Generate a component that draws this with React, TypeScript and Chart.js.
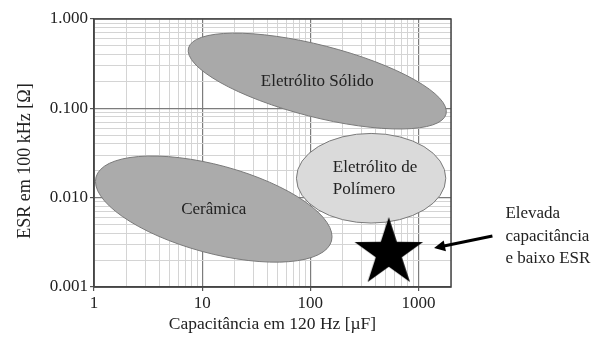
import { useEffect, useRef } from 'react';
import { Chart, registerables } from 'chart.js';

Chart.register(...registerables);

// Axis ticks (decades) and labels
const xTickValues = [1, 10, 100, 1000];
const xTickLabels = ['1', '10', '100', '1000'];
const yTickValues = [0.001, 0.01, 0.1, 1];
const yTickLabels = ['0.001', '0.010', '0.100', '1.000'];
const xMin = 1;
const xMax = 2000;
const yMin = 0.001;
const yMax = 1;
const xTitle = 'Capacitância em 120 Hz [µF]';
const yTitle = 'ESR em 100 kHz [Ω]';

// Technology regions (ellipses in log-log data space), in drawing order
const regionLabels = [['Eletrólito Sólido'], ['Eletrólito de', 'Polímero'], ['Cerâmica']];
const regionCenterCap = [116, 365, 12.8];
const regionCenterEsr = [0.202, 0.0165, 0.00745];
const regionAxisEndCap = [1800, 1790, 157];
const regionAxisEndEsr = [0.0863, 0.0165, 0.00327];
const regionWidthRatio = [0.27, 0.6, 0.36];
const regionFill = ['#a9a9a9', '#dadada', '#ababab'];

// Highlight: high capacitance and low ESR
const starCap = [532];
const starEsr = [0.0024];
const arrowTailCap = 4830;
const arrowTailEsr = 0.00372;
const arrowHeadCap = 1394;
const arrowHeadEsr = 0.00273;
const noteLines = ['Elevada', 'capacitância', 'e baixo ESR'];

const FONT = '"Liberation Serif", "Times New Roman", serif';
const TEXT = '#222222';

function makeStar(): HTMLCanvasElement {
  const c = document.createElement('canvas');
  const R = 36;
  const r = R * 0.382;
  c.width = 76;
  c.height = 76;
  const g = c.getContext('2d')!;
  g.translate(38, 38);
  g.beginPath();
  for (let i = 0; i < 10; i++) {
    const rad = i % 2 === 0 ? R : r;
    const a = -Math.PI / 2 + (i * Math.PI) / 5;
    const px = rad * Math.cos(a);
    const py = rad * Math.sin(a);
    if (i === 0) g.moveTo(px, py);
    else g.lineTo(px, py);
  }
  g.closePath();
  g.fillStyle = '#000';
  g.fill();
  return c;
}

function minorTicks(min: number, max: number) {
  const out: { value: number }[] = [];
  for (let e = -4; e <= 4; e++) {
    for (let m = 1; m <= 9; m++) {
      const v = +(m * Math.pow(10, e)).toPrecision(6);
      if (v >= min * 0.9999 && v <= max * 1.0001) out.push({ value: v });
    }
  }
  return out;
}

function isMajor(v: number) {
  const l = Math.log10(v);
  return Math.abs(l - Math.round(l)) < 1e-6;
}

const regionsPlugin = {
  id: 'regions',
  beforeDatasetsDraw(chart: any) {
    const { ctx, scales } = chart;
    const xs = scales.x;
    const ys = scales.y;
    for (let i = 0; i < regionLabels.length; i++) {
      const cx = xs.getPixelForValue(regionCenterCap[i]);
      const cy = ys.getPixelForValue(regionCenterEsr[i]);
      const ex = xs.getPixelForValue(regionAxisEndCap[i]);
      const ey = ys.getPixelForValue(regionAxisEndEsr[i]);
      const a = Math.hypot(ex - cx, ey - cy);
      const b = a * regionWidthRatio[i];
      const rot = Math.atan2(ey - cy, ex - cx);
      ctx.save();
      ctx.beginPath();
      ctx.ellipse(cx, cy, a, b, rot, 0, Math.PI * 2);
      ctx.fillStyle = regionFill[i];
      ctx.fill();
      ctx.lineWidth = 1;
      ctx.strokeStyle = '#7a7a7a';
      ctx.stroke();
      ctx.font = `17px ${FONT}`;
      ctx.fillStyle = TEXT;
      ctx.textBaseline = 'middle';
      const lines = regionLabels[i];
      if (lines.length === 1) {
        ctx.textAlign = 'center';
        ctx.fillText(lines[0], cx, cy);
      } else {
        ctx.textAlign = 'left';
        const w = ctx.measureText(lines[0]).width;
        const lx = cx - w / 2 + 4;
        const lh = 22;
        lines.forEach((t, k) => {
          ctx.fillText(t, lx, cy + (k - (lines.length - 1) / 2) * lh);
        });
      }
      ctx.restore();
    }
  },
  afterDraw(chart: any) {
    const { ctx, scales, chartArea } = chart;
    const xs = scales.x;
    const ys = scales.y;
    const tx = xs.getPixelForValue(arrowTailCap);
    const ty = ys.getPixelForValue(arrowTailEsr);
    const hx = xs.getPixelForValue(arrowHeadCap);
    const hy = ys.getPixelForValue(arrowHeadEsr);
    const ang = Math.atan2(hy - ty, hx - tx);
    const headLen = 11;
    const headW = 5.5;
    ctx.save();
    ctx.strokeStyle = '#000';
    ctx.fillStyle = '#000';
    ctx.lineWidth = 3;
    ctx.beginPath();
    ctx.moveTo(tx, ty);
    ctx.lineTo(hx - Math.cos(ang) * headLen * 0.8, hy - Math.sin(ang) * headLen * 0.8);
    ctx.stroke();
    ctx.beginPath();
    ctx.moveTo(hx, hy);
    const bx = hx - Math.cos(ang) * headLen;
    const by = hy - Math.sin(ang) * headLen;
    ctx.lineTo(bx + Math.sin(ang) * headW, by - Math.cos(ang) * headW);
    ctx.lineTo(bx - Math.sin(ang) * headW, by + Math.cos(ang) * headW);
    ctx.closePath();
    ctx.fill();
    ctx.font = `17px ${FONT}`;
    ctx.fillStyle = TEXT;
    ctx.textAlign = 'left';
    ctx.textBaseline = 'middle';
    noteLines.forEach((t, k) => {
      ctx.fillText(t, tx + 13, ty + (k - 1) * 22.5);
    });
    // y-axis title (slightly below the plot's vertical centre, as in the original)
    ctx.translate(25, (chartArea.top + chartArea.bottom) / 2 + 8);
    ctx.rotate(-Math.PI / 2);
    ctx.font = `18px ${FONT}`;
    ctx.textAlign = 'center';
    ctx.fillText(yTitle, 0, 0);
    ctx.restore();
  },
};

export default function App() {
  const ref = useRef<HTMLCanvasElement>(null);
  useEffect(() => {
    if (!ref.current) return;
    const star = makeStar();
    const chart = new Chart(ref.current, {
      type: 'scatter',
      data: {
        datasets: [
          {
            data: starCap.map((c, i) => ({ x: c, y: starEsr[i] })),
            pointStyle: star as any,
            pointRadius: 1,
            backgroundColor: '#000',
            borderColor: '#000',
          },
        ],
      },
      options: {
        animation: false,
        responsive: false,
        maintainAspectRatio: false,
        layout: { autoPadding: false, padding: { left: 0, right: 141, top: 19, bottom: 0 } },
        plugins: { legend: { display: false }, tooltip: { enabled: false } },
        scales: {
          x: {
            type: 'logarithmic',
            min: xMin,
            max: xMax,
            afterBuildTicks: (s: any) => {
              s.ticks = minorTicks(xMin, xMax);
            },
            afterFit: (s: any) => {
              s.height = 55;
            },
            ticks: {
              autoSkip: false,
              maxRotation: 0,
              padding: 2,
              color: TEXT,
              font: { family: FONT, size: 17 },
              callback: (v: any) => {
                const i = xTickValues.findIndex((t) => Math.abs(t - v) < 1e-9);
                return i >= 0 ? xTickLabels[i] : '';
              },
            },
            grid: {
              color: (c: any) => (isMajor(c.tick?.value ?? 2) ? '#7c7c7c' : '#d4d4d4'),
              lineWidth: (c: any) => (isMajor(c.tick?.value ?? 2) ? 1.2 : 1),
              tickColor: (c: any) => (isMajor(c.tick?.value ?? 2) ? '#555' : 'rgba(0,0,0,0)'),
              tickLength: 4,
            },
            border: { color: '#444', width: 1.5 },
            title: {
              display: true,
              text: xTitle,
              color: TEXT,
              font: { family: FONT, size: 17.5 },
              padding: { top: 0, bottom: 7 },
            },
          },
          y: {
            type: 'logarithmic',
            min: yMin,
            max: yMax,
            afterBuildTicks: (s: any) => {
              s.ticks = minorTicks(yMin, yMax);
            },
            afterFit: (s: any) => {
              s.width = 94;
            },
            ticks: {
              autoSkip: false,
              padding: 2,
              color: TEXT,
              font: { family: FONT, size: 17 },
              callback: (v: any) => {
                const i = yTickValues.findIndex((t) => Math.abs(t - v) < 1e-12);
                return i >= 0 ? yTickLabels[i] : '';
              },
            },
            grid: {
              color: (c: any) => (isMajor(c.tick?.value ?? 2) ? '#7c7c7c' : '#d4d4d4'),
              lineWidth: (c: any) => (isMajor(c.tick?.value ?? 2) ? 1.2 : 1),
              tickColor: (c: any) => (isMajor(c.tick?.value ?? 2) ? '#555' : 'rgba(0,0,0,0)'),
              tickLength: 4,
            },
            border: { color: '#444', width: 1.5 },
            title: { display: false },
          },
        },
      },
      plugins: [
        regionsPlugin,
        {
          id: 'frame',
          afterDatasetsDraw(ch: any) {
            const { ctx, chartArea } = ch;
            ctx.save();
            ctx.strokeStyle = '#444';
            ctx.lineWidth = 1.5;
            ctx.strokeRect(chartArea.left, chartArea.top, chartArea.right - chartArea.left, chartArea.bottom - chartArea.top);
            ctx.restore();
          },
        },
      ],
    });
    return () => chart.destroy();
  }, []);
  return (
    <div style={{ position: 'fixed', left: 0, top: 0, width: 592, height: 342 }}>
      <canvas ref={ref} width={592} height={342} style={{ display: 'block' }} />
    </div>
  );
}
